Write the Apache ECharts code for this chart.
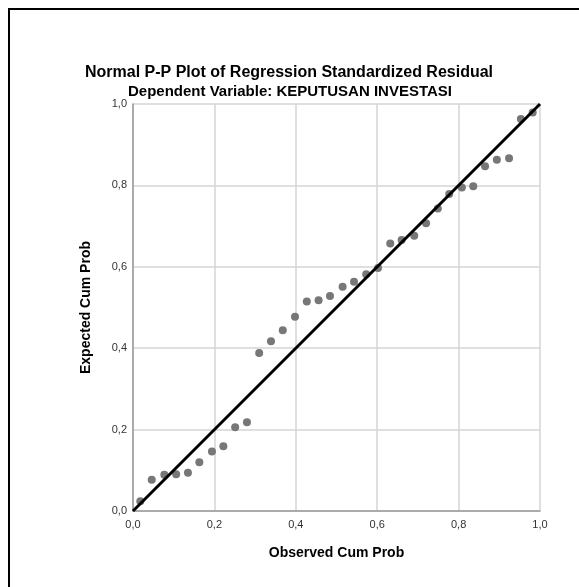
<!DOCTYPE html>
<html>
<head>
<meta charset="utf-8">
<script src="https://cdn.jsdelivr.net/npm/echarts@6/dist/echarts.min.js"></script>
<style>
  html, body { margin: 0; padding: 0; background: #fff; }
  #chart { width: 579px; height: 587px; }
</style>
</head>
<body>
<div id="chart"></div>
<script>
// observed cumulative probability (x) and expected cumulative probability (y)
const observedCum = [
  0.018, 0.046, 0.077, 0.106, 0.135, 0.163, 0.194, 0.222, 0.251, 0.280,
  0.310, 0.339, 0.368, 0.398, 0.427, 0.456, 0.484, 0.515, 0.543, 0.573,
  0.602, 0.632, 0.660, 0.691, 0.720, 0.749, 0.777, 0.808, 0.836, 0.865,
  0.894, 0.924, 0.953, 0.982
]
const expectedCum = [
  0.024, 0.077, 0.089, 0.090, 0.094, 0.120, 0.146, 0.159, 0.206, 0.218,
  0.388, 0.417, 0.444, 0.477, 0.515, 0.518, 0.528, 0.551, 0.563, 0.582,
  0.597, 0.657, 0.666, 0.676, 0.707, 0.743, 0.779, 0.795, 0.798, 0.847,
  0.863, 0.867, 0.963, 0.979
]
const refLine = [[0, 0], [1, 1]]
const tickLabels = ['0,0', '0,2', '0,4', '0,6', '0,8', '1,0']

const fontFam = 'Arial, "Liberation Sans", sans-serif'
const chart = echarts.init(document.getElementById('chart'))

const tickFmt = v => tickLabels[Math.round(v * 5)]

const axisCommon = {
  type: 'value',
  min: 0,
  max: 1,
  interval: 0.2,
  nameLocation: 'middle',
  nameTextStyle: { fontFamily: fontFam, fontSize: 14, fontWeight: 'bold', color: '#000' },
  axisLine: { show: true, lineStyle: { color: '#999', width: 1.5 } },
  axisTick: { show: false },
  axisLabel: { fontFamily: fontFam, fontSize: 11, color: '#333', formatter: tickFmt },
  splitLine: { show: true, lineStyle: { color: '#d4d4d4', width: 1.5 } }
}

chart.setOption({
  animation: false,
  backgroundColor: '#fff',
  graphic: [
    {
      type: 'rect',
      shape: { x: 9, y: 9, width: 600, height: 620 },
      style: { fill: 'none', stroke: '#000', lineWidth: 2 },
      silent: true
    },
    {
      type: 'text', x: 289, y: 73,
      style: {
        text: 'Normal P-P Plot of Regression Standardized Residual',
        font: 'bold 16px ' + fontFam, fill: '#000', align: 'center', verticalAlign: 'middle'
      }
    },
    {
      type: 'text', x: 290, y: 92,
      style: {
        text: 'Dependent Variable: KEPUTUSAN INVESTASI',
        font: 'bold 15px ' + fontFam, fill: '#000', align: 'center', verticalAlign: 'middle'
      }
    }
  ],
  grid: { left: 133, right: 39, top: 104, bottom: 76 },
  xAxis: Object.assign({}, axisCommon, {
    name: 'Observed Cum Prob',
    nameGap: 35,
    axisLabel: Object.assign({}, axisCommon.axisLabel, { margin: 8 })
  }),
  yAxis: Object.assign({}, axisCommon, {
    name: 'Expected Cum Prob',
    nameGap: 40,
    axisLabel: Object.assign({}, axisCommon.axisLabel, { margin: 6 })
  }),
  series: [
    {
      type: 'scatter',
      data: observedCum.map((x, i) => [x, expectedCum[i]]),
      symbolSize: 8,
      itemStyle: { color: '#777', opacity: 1 },
      z: 3
    },
    {
      type: 'line',
      data: refLine,
      symbol: 'none',
      lineStyle: { color: '#000', width: 3 },
      z: 4
    }
  ]
})
</script>
</body>
</html>
